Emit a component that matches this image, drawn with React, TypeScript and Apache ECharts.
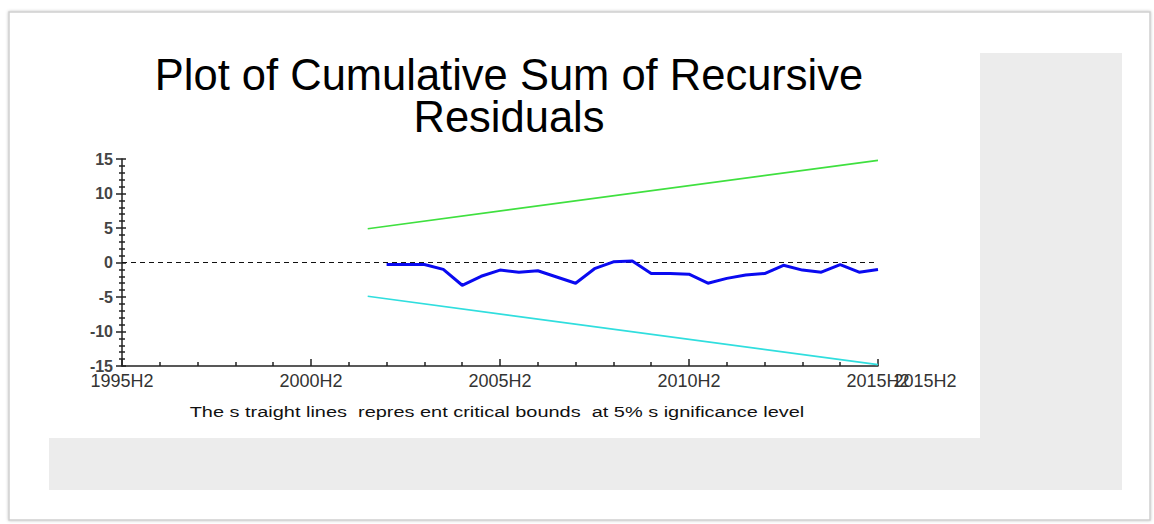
import React, { useEffect, useRef } from "react";
import * as echarts from "echarts";

// ---- data ----
const xTickLabels = ["1995H2", "2000H2", "2005H2", "2010H2", "2015H2"];
const yTicks = [-15, -10, -5, 0, 5, 10, 15];

const cusumPeriods = [
  "2002H2", "2003H1", "2003H2", "2004H1", "2004H2", "2005H1", "2005H2",
  "2006H1", "2006H2", "2007H1", "2007H2", "2008H1", "2008H2", "2009H1",
  "2009H2", "2010H1", "2010H2", "2011H1", "2011H2", "2012H1", "2012H2",
  "2013H1", "2013H2", "2014H1", "2014H2", "2015H1", "2015H2",
];
const cusumValues = [
  -0.3, -0.3, -0.3, -1.0, -3.3, -2.0, -1.1,
  -1.4, -1.2, -2.1, -3.0, -0.9, 0.1, 0.2,
  -1.6, -1.6, -1.7, -3.0, -2.3, -1.8, -1.6,
  -0.4, -1.1, -1.4, -0.3, -1.4, -1.0,
];

const boundPeriods = ["2002H1", "2015H2"];
const upperBound = [4.9, 14.8];
const lowerBound = [-4.9, -14.8];

const zeroPeriods = ["1995H2", "2015H2"];
const zeroValues = [0, 0];

const titleLines = ["Plot of Cumulative Sum of Recursive", "Residuals"];
const footnote =
  "The s traight lines  repres ent critical bounds  at 5% s ignificance level";

// ---- helpers ----
const BASE_YEAR = 1995;
const toIndex = (p: string) => {
  const year = parseInt(p.slice(0, 4), 10);
  const half = parseInt(p.slice(5), 10);
  return (year - BASE_YEAR) * 2 + (half - 2);
};
const toLabel = (i: number) => {
  const idx = Math.round(i);
  const year = BASE_YEAR + Math.floor((idx + 1) / 2);
  const half = idx % 2 === 0 ? 2 : 1;
  return `${year}H${half}`;
};
const pairs = (ps: string[], vs: number[]) => ps.map((p, i) => [toIndex(p), vs[i]]);

const FONT = "'Liberation Sans', Arial, sans-serif";
const AXIS_COLOR = "#222";
const LABEL_COLOR = "#333";

export default function App() {
  const ref = useRef<HTMLDivElement>(null);

  useEffect(() => {
    if (!ref.current) return;
    const chart = echarts.init(ref.current, undefined, { renderer: "svg" });
    const xMin = toIndex(xTickLabels[0]);
    const xMax = toIndex(xTickLabels[xTickLabels.length - 1]);
    const yMin = yTicks[0];
    const yMax = yTicks[yTicks.length - 1];

    chart.setOption({
      animation: false,
      backgroundColor: "#ffffff",
      grid: { left: 122, right: 276, top: 159, bottom: 158, containLabel: false },
      xAxis: [
        {
          type: "value",
          min: xMin,
          max: xMax,
          interval: 10,
          splitLine: { show: false },
          axisLine: { show: true, onZero: false, lineStyle: { color: AXIS_COLOR, width: 1.5 } },
          axisTick: { show: true, inside: true, length: 7, lineStyle: { color: AXIS_COLOR, width: 1.5 } },
          minorTick: { show: true, splitNumber: 5, length: 4, lineStyle: { color: AXIS_COLOR, width: 1.5 } },
          axisLabel: {
            show: true,
            margin: 6,
            fontSize: 18,
            fontFamily: FONT,
            color: LABEL_COLOR,
            formatter: (v: number) => toLabel(v),
          },
        },
      ],
      yAxis: [
        {
          type: "value",
          min: yMin,
          max: yMax,
          interval: 5,
          splitLine: { show: false },
          axisLine: { show: true, onZero: false, lineStyle: { color: AXIS_COLOR, width: 1.5 } },
          axisTick: { show: true, inside: false, length: 6, lineStyle: { color: AXIS_COLOR, width: 1.5 } },
          minorTick: { show: true, splitNumber: 5, length: 3, lineStyle: { color: AXIS_COLOR, width: 1.5 } },
          axisLabel: {
            show: true,
            margin: 9,
            fontSize: 16,
            fontWeight: "bold",
            fontFamily: FONT,
            color: "#444",
          },
        },
        {
          type: "value",
          position: "left",
          min: yMin,
          max: yMax,
          interval: 5,
          splitLine: { show: false },
          axisLine: { show: false, onZero: false },
          axisTick: { show: true, inside: true, length: 4, lineStyle: { color: AXIS_COLOR, width: 1.5 } },
          minorTick: { show: true, splitNumber: 5, length: 3, lineStyle: { color: AXIS_COLOR, width: 1.5 } },
          axisLabel: { show: false },
        },
      ],
      series: [
        {
          name: "zero",
          type: "line",
          data: pairs(zeroPeriods, zeroValues),
          symbol: "none",
          lineStyle: { color: "#111", width: 1.2, type: [5, 4] },
          z: 3,
        },
        {
          name: "upper",
          type: "line",
          data: pairs(boundPeriods, upperBound),
          symbol: "none",
          lineStyle: { color: "#3fe03f", width: 1.6 },
          z: 3,
        },
        {
          name: "lower",
          type: "line",
          data: pairs(boundPeriods, lowerBound),
          symbol: "none",
          lineStyle: { color: "#30dede", width: 1.6 },
          z: 3,
        },
        {
          name: "cusum",
          type: "line",
          data: pairs(cusumPeriods, cusumValues),
          symbol: "none",
          lineStyle: { color: "#0a0af0", width: 3 },
          z: 4,
        },
      ],
      graphic: [
        {
          type: "rect",
          z: -20,
          shape: { x: 9, y: 12, width: 1141, height: 508 },
          style: {
            fill: "#ffffff",
            stroke: "#cfcfcf",
            lineWidth: 1.5,
            shadowBlur: 3,
            shadowColor: "rgba(0,0,0,0.25)",
          },
        },
        {
          type: "rect",
          z: -19,
          shape: { x: 49, y: 53, width: 1073, height: 437 },
          style: { fill: "#ececec" },
        },
        {
          type: "rect",
          z: -18,
          shape: { x: 49, y: 53, width: 931, height: 385 },
          style: { fill: "#ffffff" },
        },
        {
          type: "text",
          z: 10,
          x: 509,
          y: 54,
          style: {
            text: titleLines.join("\n"),
            font: `43.5px ${FONT}`,
            fill: "#000",
            textAlign: "center",
            textVerticalAlign: "top",
            lineHeight: 42,
          },
        },
        {
          type: "group",
          x: 497,
          y: 404,
          scaleX: 1.33,
          children: [
            {
              type: "text",
              z: 10,
              x: 0,
              y: 0,
              style: {
                text: footnote,
                font: `15px ${FONT}`,
                fill: "#111",
                textAlign: "center",
                textVerticalAlign: "top",
              },
            },
          ],
        },
        {
          type: "text",
          z: 10,
          x: 925,
          y: 372,
          style: {
            text: xTickLabels[xTickLabels.length - 1],
            font: `18px ${FONT}`,
            fill: LABEL_COLOR,
            textAlign: "center",
            textVerticalAlign: "top",
          },
        },
      ],
    });
    return () => chart.dispose();
  }, []);

  return (
    <div
      ref={ref}
      style={{ position: "fixed", left: 0, top: 0, width: 1154, height: 524 }}
    />
  );
}
